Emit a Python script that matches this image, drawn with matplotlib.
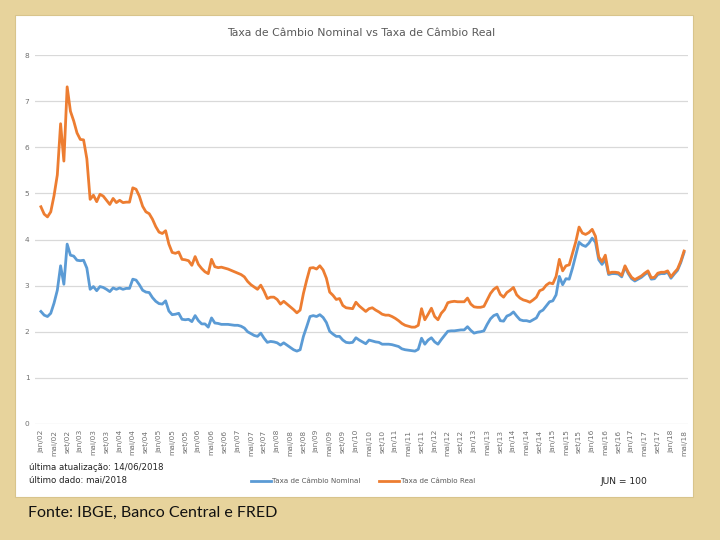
#!/usr/bin/env python3
"""
Taxa de Cambio Nominal vs Taxa de Cambio Real (jan/02 - mai/18)
"""

import matplotlib
matplotlib.use('Agg')
import matplotlib.pyplot as plt
from matplotlib.patches import Rectangle
import numpy as np

# monthly values, jan/2002 .. mai/2018
nominal = [
    2.44, 2.36, 2.33, 2.40, 2.62, 2.90, 3.43, 3.03, 3.90, 3.66, 3.64, 3.55,
    3.54, 3.55, 3.38, 2.92, 2.98, 2.89, 2.98, 2.96, 2.92, 2.87, 2.95, 2.92,
    2.95, 2.92, 2.94, 2.94, 3.14, 3.12, 3.02, 2.90, 2.86, 2.85, 2.74, 2.66,
    2.61, 2.60, 2.67, 2.45, 2.37, 2.38, 2.40, 2.27, 2.26, 2.27, 2.22, 2.35,
    2.24, 2.17, 2.17, 2.10, 2.30, 2.19, 2.18, 2.16, 2.16, 2.16, 2.15, 2.14,
    2.14, 2.12, 2.08, 2.00, 1.96, 1.92, 1.90, 1.97, 1.86, 1.77, 1.79, 1.78,
    1.76, 1.71, 1.76, 1.71, 1.66, 1.61, 1.58, 1.61, 1.90, 2.11, 2.33, 2.35,
    2.33, 2.37, 2.31, 2.20, 2.01, 1.95, 1.90, 1.90, 1.82, 1.77, 1.76, 1.77,
    1.87, 1.82, 1.78, 1.74, 1.82, 1.80, 1.78, 1.77, 1.73, 1.73, 1.73, 1.72,
    1.70, 1.68, 1.63, 1.61, 1.60, 1.59, 1.58, 1.62, 1.86, 1.73, 1.82, 1.87,
    1.78, 1.73, 1.83, 1.92, 2.01, 2.02, 2.02, 2.03, 2.04, 2.04, 2.11, 2.03,
    1.97, 1.99, 2.00, 2.02, 2.16, 2.28, 2.35, 2.38, 2.24, 2.23, 2.34, 2.37,
    2.43, 2.34, 2.26, 2.24, 2.24, 2.22, 2.26, 2.30, 2.43, 2.47, 2.56, 2.65,
    2.67, 2.80, 3.20, 3.02, 3.15, 3.14, 3.38, 3.66, 3.94, 3.88, 3.85, 3.92,
    4.03, 3.94, 3.56, 3.46, 3.57, 3.24, 3.26, 3.26, 3.25, 3.19, 3.40, 3.26,
    3.15, 3.10, 3.14, 3.18, 3.24, 3.29, 3.14, 3.15, 3.24, 3.26, 3.26, 3.29,
    3.16, 3.25, 3.33, 3.50, 3.72,
]

real = [
    4.71, 4.55, 4.49, 4.60, 4.95, 5.40, 6.51, 5.70, 7.31, 6.78, 6.57, 6.31,
    6.17, 6.16, 5.75, 4.87, 4.96, 4.82, 4.98, 4.94, 4.85, 4.76, 4.89, 4.80,
    4.85, 4.80, 4.81, 4.81, 5.12, 5.09, 4.94, 4.72, 4.60, 4.56, 4.44, 4.28,
    4.16, 4.13, 4.19, 3.90, 3.72, 3.70, 3.73, 3.57, 3.56, 3.54, 3.44, 3.63,
    3.46, 3.37, 3.30, 3.26, 3.57, 3.41, 3.39, 3.40, 3.38, 3.36, 3.33, 3.30,
    3.27, 3.24, 3.19, 3.09, 3.02, 2.97, 2.92, 3.01, 2.88, 2.72, 2.75, 2.75,
    2.70, 2.60, 2.66, 2.60, 2.54, 2.48, 2.41, 2.47, 2.83, 3.12, 3.38, 3.39,
    3.36, 3.43, 3.34, 3.16, 2.86, 2.79, 2.70, 2.72, 2.57, 2.52, 2.51, 2.50,
    2.64, 2.56, 2.50, 2.44, 2.50, 2.52, 2.47, 2.43, 2.38, 2.36, 2.36, 2.33,
    2.29, 2.24, 2.18, 2.14, 2.12, 2.10, 2.10, 2.14, 2.50, 2.26, 2.38, 2.51,
    2.33, 2.26, 2.40, 2.48, 2.63, 2.65, 2.66, 2.65, 2.65, 2.65, 2.73, 2.60,
    2.54, 2.53, 2.53, 2.55, 2.69, 2.83, 2.92, 2.97, 2.81, 2.75, 2.85, 2.90,
    2.96, 2.80, 2.73, 2.69, 2.67, 2.64, 2.69, 2.75, 2.89, 2.92, 3.01, 3.06,
    3.04, 3.20, 3.57, 3.32, 3.43, 3.45, 3.70, 3.95, 4.27, 4.14, 4.11, 4.15,
    4.22, 4.07, 3.62, 3.52, 3.66, 3.27, 3.29, 3.29, 3.28, 3.22, 3.43, 3.29,
    3.18, 3.13, 3.17, 3.21, 3.27, 3.32, 3.17, 3.18, 3.27, 3.29, 3.29, 3.32,
    3.19, 3.28, 3.36, 3.53, 3.75,
]

meses = ['jan', 'fev', 'mar', 'abr', 'mai', 'jun',
         'jul', 'ago', 'set', 'out', 'nov', 'dez']
labels = [f"{meses[i % 12]}/{(2 + i // 12):02d}" for i in range(len(nominal))]
tick_pos = list(range(0, len(nominal), 4))

gray = '#595959'
blue = '#5B9BD5'
orange = '#ED7D31'

fig = plt.figure(figsize=(7.2, 5.4), dpi=100)
fig.patch.set_facecolor('#E7D39C')

# white panel of the chart (behind the axes)
fig.patches.append(Rectangle((15 / 720, 1 - 497 / 540), 678 / 720, 482 / 540,
                             transform=fig.transFigure, facecolor='white',
                             edgecolor='#D8C48C', linewidth=0.8, zorder=-1))

ax = fig.add_axes([35 / 720, 1 - 424 / 540, 653 / 720, 369 / 540])
ax.set_facecolor('none')
ax.set_zorder(1)

x = np.arange(len(nominal))
ax.plot(x, nominal, color=blue, linewidth=2.0, label='Taxa de Câmbio Nominal',
        solid_joinstyle='round')
ax.plot(x, real, color=orange, linewidth=2.0, label='Taxa de Câmbio Real',
        solid_joinstyle='round')

ax.set_xlim(-1.8, len(nominal) + 0.2)
ax.set_ylim(0, 8)
ax.set_yticks(range(0, 9))
ax.set_xticks(tick_pos)
ax.set_xticklabels([labels[i] for i in tick_pos], rotation=90, fontsize=5.3,
                   color='#707070')
ax.tick_params(axis='y', labelsize=5.3, labelcolor='#707070', length=0, pad=4)
ax.tick_params(axis='x', length=0, pad=4)
ax.grid(axis='y', color='#D9D9D9', linewidth=0.9)
ax.set_axisbelow(True)
for s in ax.spines.values():
    s.set_visible(False)

fig.text(361 / 720, 1 - 33 / 540, 'Taxa de Câmbio Nominal vs Taxa de Câmbio Real',
         ha='center', va='center', fontsize=7.8, color=gray)

fig.legend(loc='center', bbox_to_anchor=(363 / 720, 1 - 481 / 540), ncol=2,
           frameon=False, fontsize=5.1, labelcolor=gray, handlelength=2.8,
           handletextpad=0.2, columnspacing=2.6)

fig.text(29 / 720, 1 - 467 / 540, 'última atualização: 14/06/2018',
         ha='left', va='center', fontsize=6.2, color='#222222')
fig.text(29 / 720, 1 - 480 / 540, 'último dado: mai/2018',
         ha='left', va='center', fontsize=6.2, color='#222222')
fig.text(600 / 720, 1 - 481 / 540, 'JUN = 100',
         ha='left', va='center', fontsize=6.6, color='#222222')

fig.text(28 / 720, 1 - 513 / 540, 'Fonte: IBGE, Banco Central e FRED',
         ha='left', va='center', fontsize=11.5, color='#111111', family='Lato')

plt.savefig('out.png', dpi=100)
